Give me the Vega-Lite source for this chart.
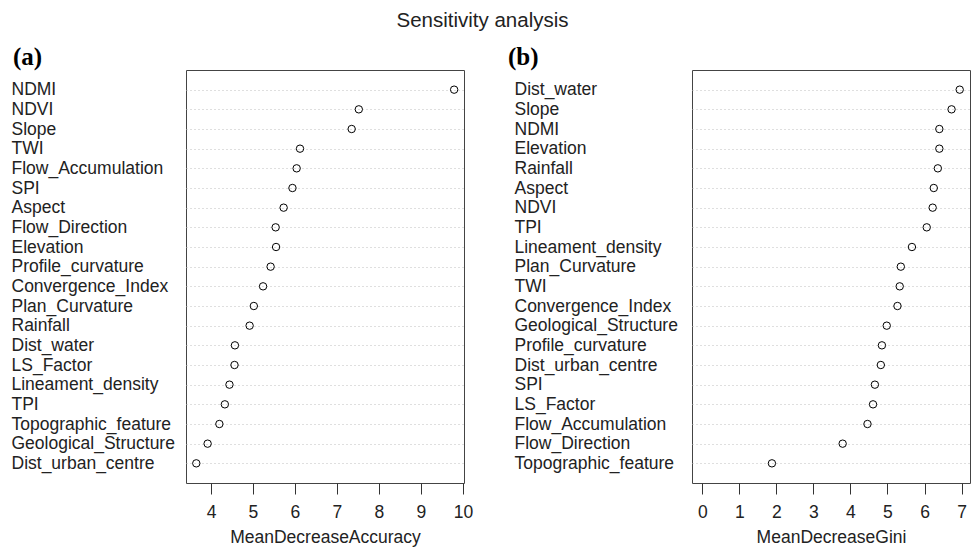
{
  "$schema": "https://vega.github.io/schema/vega-lite/v6.json",
  "padding": {"left": 10, "top": 11, "right": 0, "bottom": 0},
  "background": "white",
  "title": {"text": "Sensitivity analysis", "fontSize": 20.5, "font": "Liberation Sans", "fontWeight": "normal", "color": "#222", "anchor": "middle", "offset": 13, "dx": -8},
  "datasets": {
    "acc": [
      {"var": "NDMI", "value": 9.79},
      {"var": "NDVI", "value": 7.52},
      {"var": "Slope", "value": 7.35},
      {"var": "TWI", "value": 6.12},
      {"var": "Flow_Accumulation", "value": 6.04},
      {"var": "SPI", "value": 5.94},
      {"var": "Aspect", "value": 5.73},
      {"var": "Flow_Direction", "value": 5.54},
      {"var": "Elevation", "value": 5.55},
      {"var": "Profile_curvature", "value": 5.42},
      {"var": "Convergence_Index", "value": 5.24},
      {"var": "Plan_Curvature", "value": 5.02},
      {"var": "Rainfall", "value": 4.92},
      {"var": "Dist_water", "value": 4.57},
      {"var": "LS_Factor", "value": 4.56},
      {"var": "Lineament_density", "value": 4.44},
      {"var": "TPI", "value": 4.33},
      {"var": "Topographic_feature", "value": 4.2},
      {"var": "Geological_Structure", "value": 3.92},
      {"var": "Dist_urban_centre", "value": 3.65}
    ],
    "gini": [
      {"var": "Dist_water", "value": 6.95},
      {"var": "Slope", "value": 6.73},
      {"var": "NDMI", "value": 6.4},
      {"var": "Elevation", "value": 6.4},
      {"var": "Rainfall", "value": 6.36},
      {"var": "Aspect", "value": 6.25},
      {"var": "NDVI", "value": 6.22},
      {"var": "TPI", "value": 6.06},
      {"var": "Lineament_density", "value": 5.66},
      {"var": "Plan_Curvature", "value": 5.36},
      {"var": "TWI", "value": 5.33},
      {"var": "Convergence_Index", "value": 5.27},
      {"var": "Geological_Structure", "value": 4.98},
      {"var": "Profile_curvature", "value": 4.85},
      {"var": "Dist_urban_centre", "value": 4.82},
      {"var": "SPI", "value": 4.66},
      {"var": "LS_Factor", "value": 4.61},
      {"var": "Flow_Accumulation", "value": 4.46},
      {"var": "Flow_Direction", "value": 3.79},
      {"var": "Topographic_feature", "value": 1.88}
    ]
  },
  "bounds": "flush",
  "spacing": 228,
  "hconcat": [
    {
      "width": 278,
      "height": 413,
      "data": {"name": "acc"},
      "title": {"text": "(a)", "anchor": "start", "frame": "bounds", "font": "Liberation Serif", "fontWeight": "bold", "fontSize": 25, "color": "#000", "baseline": "alphabetic", "offset": -20, "dx": 2},
      "mark": {"type": "point", "shape": "circle", "filled": false, "stroke": "#000", "strokeWidth": 1, "size": 55, "opacity": 1},
      "encoding": {
        "x": {"field": "value", "type": "quantitative", "scale": {"domain": [3.405, 10.025], "nice": false, "zero": false},
              "axis": {"values": [4, 5, 6, 7, 8, 9, 10], "title": "MeanDecreaseAccuracy"}},
        "y": {"field": "var", "type": "nominal", "sort": null, "scale": {"type": "point", "padding": 1},
              "axis": {"title": null, "labelPadding": 175, "grid": true}}
      }
    },
    {
      "width": 278,
      "height": 413,
      "data": {"name": "gini"},
      "title": {"text": "(b)", "anchor": "start", "frame": "bounds", "font": "Liberation Serif", "fontWeight": "bold", "fontSize": 25, "color": "#000", "baseline": "alphabetic", "offset": -20, "dx": -6},
      "mark": {"type": "point", "shape": "circle", "filled": false, "stroke": "#000", "strokeWidth": 1, "size": 55, "opacity": 1},
      "encoding": {
        "x": {"field": "value", "type": "quantitative", "scale": {"domain": [-0.278, 7.228], "nice": false, "zero": false},
              "axis": {"values": [0, 1, 2, 3, 4, 5, 6, 7], "title": "MeanDecreaseGini"}},
        "y": {"field": "var", "type": "nominal", "sort": null, "scale": {"type": "point", "padding": 1},
              "axis": {"title": null, "labelPadding": 178, "grid": true}}
      }
    }
  ],
  "config": {
    "view": {"stroke": "#444", "strokeWidth": 1},
    "axisY": {"domain": false, "ticks": false, "labelAlign": "left", "labelFont": "Liberation Sans", "labelFontSize": 17.5, "labelColor": "#222", "labelOverlap": false, "labelLimit": 200, "gridColor": "#bebebe", "gridDash": [1, 3], "gridWidth": 1, "gridOpacity": 1},
    "axisX": {"domain": false, "grid": false, "ticks": true, "tickSize": 11, "tickColor": "#333", "tickWidth": 1, "labelFont": "Liberation Sans", "labelFontSize": 17.5, "labelColor": "#222", "labelPadding": 9, "labelOverlap": false, "labelFlush": false, "titleFont": "Liberation Sans", "titleFontSize": 17.5, "titleFontWeight": "normal", "titleColor": "#222", "titlePadding": 8}
  }
}
